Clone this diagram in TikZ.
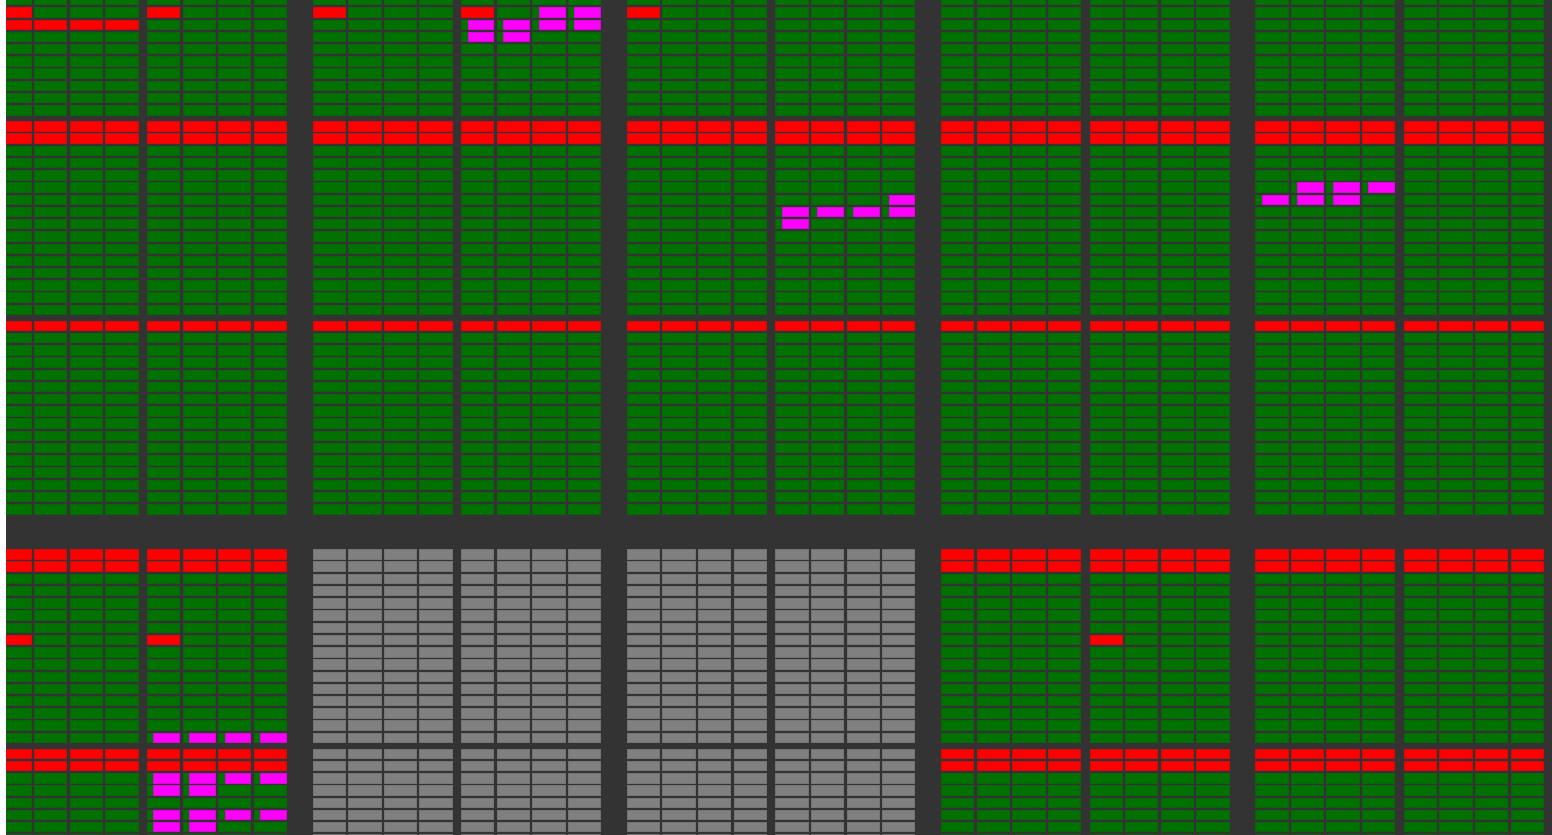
\documentclass[tikz,border=0pt]{standalone}
\usepackage{xcolor}
\usepackage{tikz}
\usetikzlibrary{calc}

\definecolor{panel}{RGB}{51,51,51}
\definecolor{okgreen}{RGB}{0,114,0}
\definecolor{badred}{RGB}{255,0,0}
\definecolor{hotpink}{RGB}{255,0,255}
\definecolor{idlegrey}{RGB}{128,128,128}

\tikzset{
  cellok/.style={fill=okgreen, draw=okgreen!80!panel, line width=0.35pt},
  cellbad/.style={fill=badred, draw=badred!80!panel, line width=0.35pt},
  cellidle/.style={fill=idlegrey, draw=idlegrey!85!panel, line width=0.35pt},
  cellhot/.style={fill=hotpink, draw=hotpink!80!panel, line width=0.35pt}
}

% one cell: style, column (0..39), top edge
\newcommand{\cellbox}[3]{%
  \pgfmathsetmacro{\cx}{-1.5+314.2*int(#2/8)+148.5*mod(int(#2/4),2)+35.6*mod(#2,4)}%
  \pgfmathsetmacro{\cy}{#3}%
  \path[#1] (\cx+0.2,\cy+0.2) rectangle ++(32.3,9.4);}
% busy mark over a cell: column, top edge
\newcommand{\hotbox}[2]{%
  \pgfmathsetmacro{\cx}{-1.5+314.2*int(#1/8)+148.5*mod(int(#1/4),2)+35.6*mod(#1,4)}%
  \pgfmathsetmacro{\cy}{#2}%
  \path[cellhot] (\cx+6.6,\cy+0.2) rectangle ++(25.9,9.4);}

\begin{document}
\begin{tikzpicture}[x=0.25mm, y=-0.25mm]
    \useasboundingbox (0,0) rectangle (1552,835);
    \fill[white] (0,0) rectangle (1552,835);
    \fill[panel] (6,0) rectangle (1552,835);
    \begin{scope}
    \clip (6,0) rectangle (1552,835);

    % Upper rack
    \foreach \ytop/\nrows in {-4.9/10, 121.3/16, 320.7/16}{
      \foreach \r in {1,...,\nrows}{
        \foreach \c in {0,...,39}{\cellbox{cellok}{\c}{\ytop+12.23*(\r-1)}}}}

    % Lower rack
    \foreach \ytop/\nrows in {549.3/16, 748.7/8}{
      \foreach \r in {1,...,\nrows}{
        \foreach \c in {0,...,7,24,25,...,39}{\cellbox{cellok}{\c}{\ytop+12.23*(\r-1)}}
        \foreach \c in {8,...,23}{\cellbox{cellidle}{\c}{\ytop+12.23*(\r-1)}}}}

    % Red rows
    \foreach \c in {0,...,3}{\cellbox{cellbad}{\c}{7.35+12.25}}
    \foreach \y in {121.3, 133.53, 320.7}{
      \foreach \c in {0,...,39}{\cellbox{cellbad}{\c}{\y}}}
    \foreach \y in {549.3, 561.53, 748.7, 760.93}{
      \foreach \c in {0,...,7,24,25,...,39}{\cellbox{cellbad}{\c}{\y}}}

    % Red single cells
    \foreach \c in {0,4,8,12,16}{\cellbox{cellbad}{\c}{7.35}}
    \foreach \c in {0,4,28}{\cellbox{cellbad}{\c}{549.3+12.23*7}}

    % Busy cells
    \foreach \c/\y in {14/7.35, 15/7.35,
        12/19.6, 13/19.6, 14/19.6, 15/19.6,
        12/31.85, 13/31.85}{\hotbox{\c}{\y}}
    \foreach \c/\r in {33/5, 34/5, 35/5,
        23/6, 32/6, 33/6, 34/6,
        20/7, 21/7, 22/7, 23/7,
        20/8}{\hotbox{\c}{121.3+12.23*\r}}
    \foreach \c in {4,...,7}{\hotbox{\c}{549.3+12.23*15}}
    \foreach \c/\r in {4/2, 5/2, 6/2, 7/2,
        4/3, 5/3,
        4/5, 5/5, 6/5, 7/5,
        4/6, 5/6}{\hotbox{\c}{748.7+12.23*\r}}
    \end{scope}
\end{tikzpicture}
\end{document}
